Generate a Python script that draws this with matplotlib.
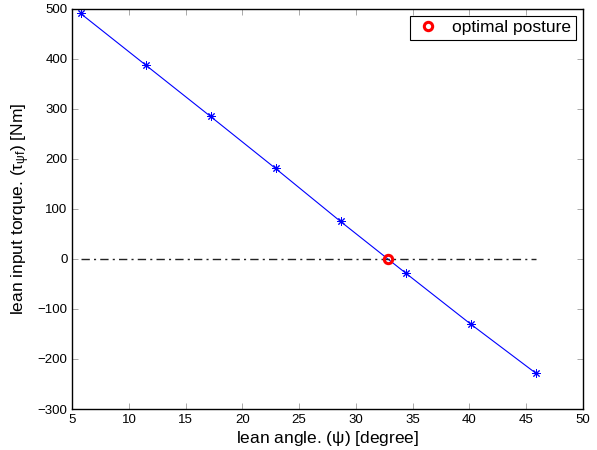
import numpy as np
import matplotlib.pyplot as plt

plt.rcParams['font.family'] = ['Liberation Sans', 'DejaVu Sans']
plt.rcParams['mathtext.fontset'] = 'custom'
plt.rcParams['mathtext.rm'] = 'Liberation Sans'
plt.rcParams['mathtext.it'] = 'Liberation Sans'
plt.rcParams['mathtext.bf'] = 'Liberation Sans:bold'

# lean angles (0.1 rad steps, in degree) and the input torque
lean_deg = [5.73, 11.46, 17.19, 22.92, 28.65, 34.38, 40.11, 45.84]
torque = [491, 388, 285, 181, 75, -28, -130, -228]
opt_angle = [32.8]
opt_torque = [0]
zero_x = [5.73, 45.84]
zero_y = [0, 0]

fig = plt.figure(figsize=(5.97, 4.5), dpi=100)
ax = fig.add_axes([0.1211, 0.0911, 0.855, 0.889])

# MATLAB style asterisk marker
ax.plot(lean_deg, torque, color='#0000ff', lw=0.8, marker=(8, 2, 0), ms=6,
        markeredgewidth=0.7)
ax.plot(zero_x, zero_y, color='#222222', lw=1.0, dashes=(6, 3, 1.5, 3))
ax.plot(opt_angle, opt_torque, 'o', color='red', mfc='none', ms=6,
        markeredgewidth=2.2, label='optimal posture')

ax.set_xlim(5, 50)
ax.set_ylim(-300, 500)
ax.set_xticks(np.arange(5, 51, 5))
ax.set_yticks(np.arange(-300, 501, 100))
ax.tick_params(direction='in', top=True, right=True, labelsize=9.5,
               length=4, width=0.5, color='#888888')
for sp in ax.spines.values():
    sp.set_linewidth(1.0)

ax.set_xlabel(r'lean angle. ($\psi$) [degree]', fontsize=12.5, labelpad=2)
ax.set_ylabel(r'lean input torque. ($\tau_{\psi f}$) [Nm]', fontsize=12.5,
              labelpad=4)

leg = ax.legend(loc='upper right', fontsize=12.5, fancybox=False,
                framealpha=1, edgecolor='black', borderaxespad=0.4,
                handlelength=1.6, borderpad=0.25, handletextpad=0.6)
leg.get_frame().set_linewidth(0.8)

fig.savefig('out.png', dpi=100)
